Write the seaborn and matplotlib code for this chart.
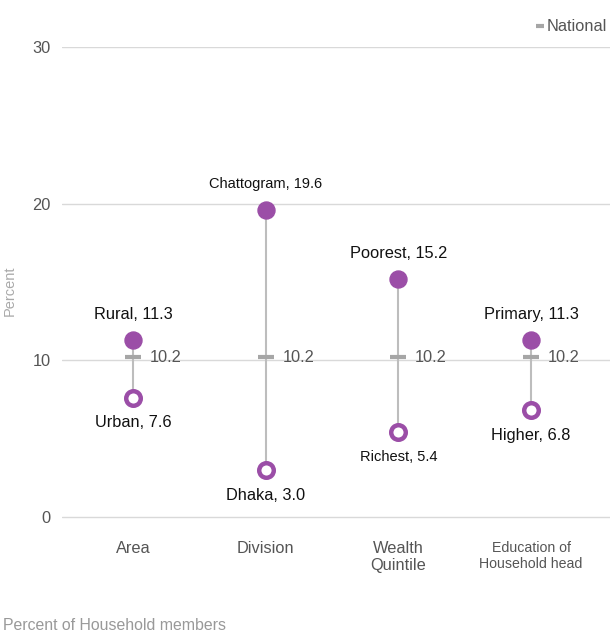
import numpy as np
import pandas as pd
import seaborn as sns
import matplotlib.pyplot as plt

# data
groups = ['Area', 'Division', 'Wealth\nQuintile', 'Education of\nHousehold head']
high_names = ['Rural', 'Chattogram', 'Poorest', 'Primary']
high_vals = [11.3, 19.6, 15.2, 11.3]
low_names = ['Urban', 'Dhaka', 'Richest', 'Higher']
low_vals = [7.6, 3.0, 5.4, 6.8]
national = [10.2, 10.2, 10.2, 10.2]

purple = '#9b4ea7'
grey_line = '#bdbdbd'
grey_nat = '#a6a6a6'

sns.set_style('white')
plt.rcParams['font.family'] = ['Liberation Sans', 'DejaVu Sans']

df = pd.DataFrame({'x': range(len(groups)), 'high': high_vals, 'low': low_vals, 'nat': national})

fig = plt.figure(figsize=(6.12, 6.31), dpi=100)
ax = fig.add_axes([62 / 612, (631 - 518.6) / 631, 548 / 612, 471.6 / 631])

for i, r in df.iterrows():
    ax.plot([r['x'], r['x']], [r['low'], r['high']], color=grey_line, lw=1.5, zorder=1)

sns.scatterplot(data=df, x='x', y='nat', marker='_', s=120, linewidth=3, color=grey_nat, ax=ax, zorder=2)
sns.scatterplot(data=df, x='x', y='high', s=150, color=purple, edgecolor=purple, ax=ax, zorder=3)
sns.scatterplot(data=df, x='x', y='low', s=110, color='white', edgecolor=purple, linewidth=3.2, ax=ax, zorder=3)

small = {'Chattogram', 'Richest'}
for i in range(len(groups)):
    fs = 10.5 if high_names[i] in small else 11.8
    ax.annotate(f'{high_names[i]}, {high_vals[i]:.1f}', (i, high_vals[i]), xytext=(0, 18.5),
                textcoords='offset points', ha='center', va='center', fontsize=fs, color='#111111')
    fs = 10.5 if low_names[i] in small else 11.8
    ax.annotate(f'{low_names[i]}, {low_vals[i]:.1f}', (i, low_vals[i]), xytext=(0, -18),
                textcoords='offset points', ha='center', va='center', fontsize=fs, color='#111111')
    ax.annotate(f'{national[i]:.1f}', (i, national[i]), xytext=(12, 0),
                textcoords='offset points', ha='left', va='center', fontsize=11.8, color='#555555')

ax.set_xlim(-0.535, 3.595)
ax.set_ylim(-0.1, 30)
ax.set_yticks([0, 10, 20, 30])
ax.set_xticks(range(len(groups)))
ax.set_xticklabels(groups)
for lab in ax.get_xticklabels():
    lab.set_fontsize(10.2 if 'Education' in lab.get_text() else 11.8)
ax.tick_params(axis='x', colors='#555555', length=0, pad=16)
ax.tick_params(axis='y', colors='#555555', length=0, labelsize=11.8, pad=8)
ax.grid(axis='y', color='#d9d9d9', lw=1)
ax.set_axisbelow(True)
for s in ax.spines.values():
    s.set_visible(False)
ax.set_xlabel('')
ax.set_ylabel('Percent', color='#aaaaaa', fontsize=10.5)
ax.yaxis.set_label_coords(-(62 - 17) / 548, (517 - 290) / 470)

ax.plot([], [], marker='_', ls='', color=grey_nat, ms=6, mew=3, label='National')
ax.legend(loc='upper right', bbox_to_anchor=(1.022, 1.09), frameon=False, fontsize=11.8,
          handlelength=0.5, handletextpad=0.2, labelcolor='#555555')

fig.text(3 / 612, 1 - 625 / 631, 'Percent of Household members', color='#999999', fontsize=11.4, va='center')

fig.savefig('out.png', dpi=100)
